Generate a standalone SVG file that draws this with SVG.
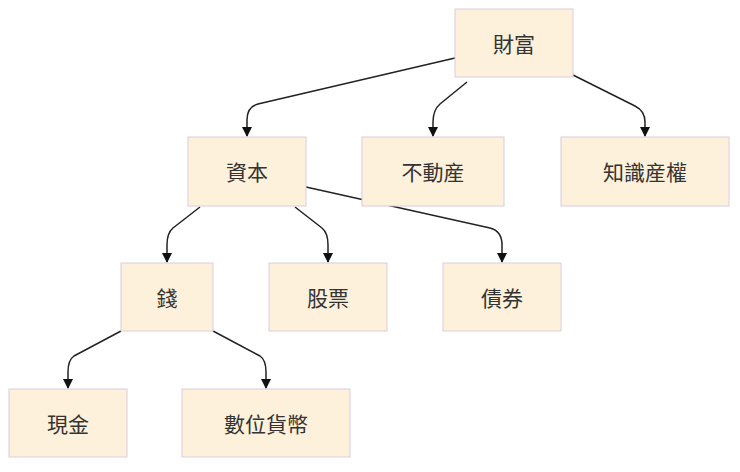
<svg xmlns="http://www.w3.org/2000/svg" width="740" height="472" viewBox="0 0 740 472">
<style>
.n rect{fill:#fdf1db;stroke:#dcccdc;stroke-width:1}
.n text{font-family:"Noto Sans CJK TC","Noto Sans CJK JP",sans-serif;font-size:21px;fill:#333;text-anchor:middle;dominant-baseline:central}
.e path{fill:none;stroke:#222;stroke-width:1.5;marker-end:url(#a)}
</style>
<defs><marker id="a" viewBox="0 0 10 10" refX="9" refY="5" markerWidth="7" markerHeight="7" orient="auto"><path d="M0,0L10,5L0,10z" fill="#111"/></marker></defs>
<rect width="740" height="472" fill="#fff"/>
<g id="connectors" class="e">
<path d="M455,58L258,104Q247,107 247,120L247,136"/>
<path d="M467,82L440,104Q433,110 433,122L433,136"/>
<path d="M573,75L635,106Q645,111 645,122L645,136"/>
<path d="M200,207L173,228Q167,233 167,245L167,262"/>
<path d="M295,207L322,228Q328,233 328,245L328,262"/>
<path d="M306,187L490,228Q502,231 502,245L502,262"/>
<path d="M121,331L74,356Q68,360 68,372L68,388"/>
<path d="M213,331L260,356Q266,360 266,372L266,388"/>
</g>
<g id="n1" class="n"><rect x="455" y="9" width="118" height="68"/><text x="514" y="43">財富</text></g>
<g id="n2" class="n"><rect x="188" y="137" width="118" height="69"/><text x="247" y="171">資本</text></g>
<g id="n3" class="n"><rect x="362" y="137" width="142" height="69"/><text x="433" y="171">不動産</text></g>
<g id="n4" class="n"><rect x="561" y="137" width="168" height="69"/><text x="645" y="171">知識産權</text></g>
<g id="n5" class="n"><rect x="121" y="263" width="92" height="68"/><text x="167" y="297">錢</text></g>
<g id="n6" class="n"><rect x="269" y="263" width="118" height="68"/><text x="328" y="297">股票</text></g>
<g id="n7" class="n"><rect x="443" y="263" width="118" height="68"/><text x="502" y="297">債券</text></g>
<g id="n8" class="n"><rect x="9" y="389" width="118" height="68"/><text x="68" y="423">現金</text></g>
<g id="n9" class="n"><rect x="182" y="389" width="168" height="68"/><text x="266" y="423">數位貨幣</text></g>
</svg>
